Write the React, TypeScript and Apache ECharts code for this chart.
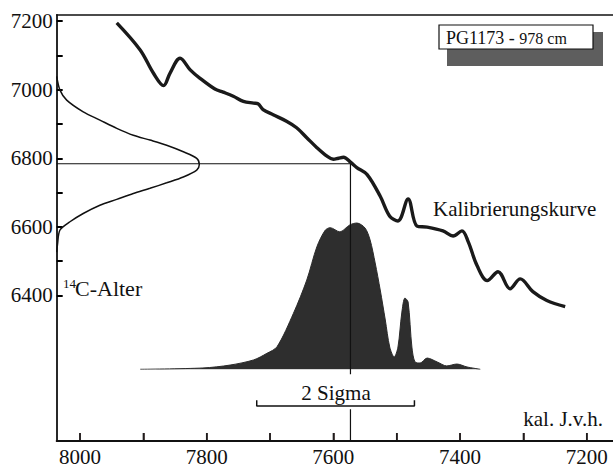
import React, { useEffect, useRef } from "react";
import * as echarts from "echarts";

// Calibration curve (cal. years BP vs 14C age)
const calibAge = [7942, 7905, 7884, 7868, 7858, 7842, 7826, 7811, 7787, 7774, 7758, 7742, 7726, 7719, 7711, 7695, 7674, 7658, 7642, 7626, 7610, 7600, 7592, 7584, 7572, 7563, 7547, 7526, 7511, 7498, 7482, 7468, 7452, 7427, 7411, 7397, 7387, 7373, 7357, 7340, 7321, 7305, 7285, 7263, 7234];
const calibC14 = [7195, 7116, 7048, 7012, 7048, 7092, 7058, 7034, 7002, 6993, 6981, 6966, 6961, 6959, 6942, 6927, 6908, 6889, 6860, 6831, 6806, 6797, 6800, 6803, 6787, 6773, 6753, 6689, 6631, 6617, 6681, 6602, 6599, 6588, 6573, 6588, 6556, 6486, 6443, 6469, 6419, 6448, 6411, 6385, 6367];

// 14C age distribution (relative density vs 14C age)
const ageDensity = [0, 0.023, 0.07, 0.186, 0.303, 0.421, 0.537, 0.654, 0.771, 0.888, 0.982, 1, 0.982, 0.888, 0.771, 0.654, 0.537, 0.421, 0.303, 0.186, 0.093, 0.023, 0.005, 0];
const ageC14 = [7040, 7000, 6971, 6937, 6913, 6889, 6869, 6855, 6840, 6821, 6802, 6784, 6768, 6748, 6731, 6715, 6700, 6683, 6666, 6642, 6618, 6594, 6550, 6530];

// Calibrated age distribution (cal. years BP vs relative density)
const distAge = [7905, 7806, 7763, 7726, 7705, 7689, 7663, 7642, 7626, 7613, 7605, 7590, 7574, 7563, 7550, 7542, 7534, 7526, 7518, 7511, 7504, 7498, 7492, 7487, 7482, 7476, 7471, 7463, 7452, 7436, 7421, 7405, 7389, 7368];
const distDensity = [0, 0.009, 0.029, 0.064, 0.109, 0.154, 0.383, 0.61, 0.838, 0.95, 0.968, 0.94, 0.987, 1, 0.966, 0.884, 0.727, 0.542, 0.337, 0.152, 0.084, 0.152, 0.385, 0.487, 0.46, 0.152, 0.05, 0.043, 0.077, 0.05, 0.023, 0.036, 0.016, 0];

// Measured 14C age and its intercept
const measuredC14 = 6784;
const interceptAge = 7573;

// 2 sigma range
const sigmaRange = [7721, 7472];
const sigmaLevel = 6077;
const sigmaEnd = 6094;
const gapTop = 6170;
const gapBottom = 6068;

// Axes
const xMin = 7158.5;
const xMax = 8036.8;
const yMin = 5975;
const yMax = 7218;
const xTickValues = [8000, 7900, 7800, 7700, 7600, 7500, 7400, 7300, 7200];
const xLabelValues = [8000, 7800, 7600, 7400, 7200];
const yTickValues = [7200, 7100, 7000, 6900, 6800, 6700, 6600, 6500, 6400];
const yLabelValues = [7200, 7000, 6800, 6600, 6400];

const FONT = "Liberation Serif";
const INK = "#111";
const AXIS_INK = "#201010";

export default function App() {
  const ref = useRef<HTMLDivElement>(null);
  useEffect(() => {
    if (!ref.current) return;
    const chart = echarts.init(ref.current, undefined, { renderer: "svg" });
    const hiddenAxis = { show: false, axisLine: { show: false, onZero: false }, axisTick: { show: false }, axisLabel: { show: false }, splitLine: { show: false } };
    chart.setOption({
      animation: false,
      backgroundColor: "#fff",
      grid: [
        { left: 56.7, right: 0, top: 15, bottom: 23.7, containLabel: false },
        { left: 56.7, width: 142.6, top: 15, bottom: 23.7, containLabel: false },
        { left: 56.7, right: 0, top: 15, bottom: 97.7, containLabel: false },
      ],
      xAxis: [
        {
          type: "value",
          gridIndex: 0,
          position: "bottom",
          inverse: true,
          min: xMin,
          max: xMax,
          axisLine: { show: true, onZero: false, lineStyle: { color: AXIS_INK, width: 2 } },
          axisTick: { show: true, inside: true, length: 8, customValues: xTickValues, lineStyle: { color: AXIS_INK, width: 1.5 } },
          axisLabel: { show: true, customValues: xLabelValues, margin: 5, color: INK, fontSize: 21, fontFamily: FONT, formatter: (v: number) => String(v) },
          splitLine: { show: false },
        },
        {
          type: "value",
          gridIndex: 0,
          position: "top",
          min: 0,
          max: 1,
          axisLine: { show: true, onZero: false, lineStyle: { color: INK, width: 1.6 } },
          axisTick: { show: false },
          axisLabel: { show: false },
          splitLine: { show: false },
        },
        { type: "value", gridIndex: 1, min: 0, max: 1, ...hiddenAxis },
        { type: "value", gridIndex: 2, inverse: true, min: xMin, max: xMax, ...hiddenAxis },
      ],
      yAxis: [
        {
          type: "value",
          gridIndex: 0,
          position: "left",
          min: yMin,
          max: yMax,
          axisLine: { show: true, onZero: false, lineStyle: { color: INK, width: 1.8 } },
          axisTick: { show: true, inside: true, length: 6, customValues: yTickValues, lineStyle: { color: "black", width: 2 } },
          axisLabel: { show: true, customValues: yLabelValues, margin: 4, color: INK, fontSize: 21, fontFamily: FONT, formatter: (v: number) => String(v) },
          splitLine: { show: false },
        },
        { type: "value", gridIndex: 1, min: yMin, max: yMax, ...hiddenAxis },
        { type: "value", gridIndex: 2, min: 0, max: 2.422, ...hiddenAxis },
      ],
      series: [
        {
          type: "line",
          xAxisIndex: 3,
          yAxisIndex: 2,
          data: distAge.map((a, i) => [a, distDensity[i]]),
          smooth: 0.3,
          symbol: "none",
          lineStyle: { color: "#2b2b2b", width: 1 },
          areaStyle: { color: "#2e2e2e", opacity: 1 },
          silent: true,
          z: 2,
        },
        {
          type: "line",
          xAxisIndex: 0,
          yAxisIndex: 0,
          data: [[xMax, yMin], [xMin, yMin]],
          symbol: "none",
          clip: false,
          lineStyle: { color: INK, width: 2 },
          silent: true,
          z: 3,
        },
        {
          type: "scatter",
          xAxisIndex: 0,
          yAxisIndex: 0,
          data: xTickValues.map((v) => [v, yMin]),
          symbol: "rect",
          symbolSize: [1.5, 8],
          symbolOffset: [0, -4],
          clip: false,
          itemStyle: { color: INK },
          silent: true,
          z: 3,
        },
        {
          type: "line",
          xAxisIndex: 0,
          yAxisIndex: 0,
          data: [[xMax, measuredC14], [interceptAge, measuredC14], [interceptAge, gapTop]],
          symbol: "none",
          lineStyle: { color: INK, width: 1.2 },
          silent: true,
          z: 3,
        },
        {
          type: "line",
          xAxisIndex: 0,
          yAxisIndex: 0,
          data: [[interceptAge, gapBottom], [interceptAge, yMin]],
          symbol: "none",
          lineStyle: { color: INK, width: 1.2 },
          silent: true,
          z: 3,
        },
        {
          type: "line",
          xAxisIndex: 0,
          yAxisIndex: 0,
          data: [[sigmaRange[0], sigmaEnd], [sigmaRange[0], sigmaLevel], [sigmaRange[1], sigmaLevel], [sigmaRange[1], sigmaEnd]],
          symbol: "none",
          lineStyle: { color: INK, width: 1.5 },
          silent: true,
          z: 3,
        },
        {
          type: "line",
          xAxisIndex: 2,
          yAxisIndex: 1,
          data: ageDensity.map((d, i) => [d, ageC14[i]]),
          smooth: 0.3,
          symbol: "none",
          lineStyle: { color: INK, width: 1.5 },
          silent: true,
          z: 4,
        },
        {
          type: "line",
          xAxisIndex: 0,
          yAxisIndex: 0,
          data: calibAge.map((a, i) => [a, calibC14[i]]),
          smooth: 0.35,
          symbol: "none",
          lineStyle: { color: "#1a1a1a", width: 3.4 },
          silent: true,
          z: 5,
        },
      ],
      graphic: [
        { type: "text", x: 433, y: 209, style: { text: "Kalibrierungskurve", fontSize: 21, fontFamily: FONT, fill: INK, verticalAlign: "middle" } },
        { type: "text", x: 603, y: 419, style: { text: "kal. J.v.h.", fontSize: 21, fontFamily: FONT, fill: INK, align: "right", verticalAlign: "middle" } },
        { type: "text", x: 336, y: 393, style: { text: "2 Sigma", fontSize: 21, fontFamily: FONT, fill: INK, align: "center", verticalAlign: "middle" } },
        { type: "text", x: 63, y: 283, style: { text: "14", fontSize: 13, fontFamily: FONT, fill: INK, verticalAlign: "middle" } },
        { type: "text", x: 75, y: 288, style: { text: "C-Alter", fontSize: 22, fontFamily: FONT, fill: INK, verticalAlign: "middle" } },
        { type: "rect", shape: { x: 447, y: 32, width: 156, height: 34 }, style: { fill: "#5e5e5e" }, z: 10 },
        { type: "rect", shape: { x: 439, y: 25, width: 154, height: 24 }, style: { fill: "#fff", stroke: INK, lineWidth: 1.2 }, z: 11 },
        {
          type: "text",
          x: 446,
          y: 38,
          z: 12,
          style: {
            text: "{a|PG1173 - }{b|978 cm}",
            fontFamily: FONT,
            fill: INK,
            verticalAlign: "middle",
            rich: {
              a: { fontSize: 18, fontFamily: FONT, fill: INK },
              b: { fontSize: 16, fontFamily: FONT, fill: INK },
            },
          },
        },
      ],
    });
    return () => chart.dispose();
  }, []);
  return <div ref={ref} style={{ position: "absolute", left: 0, top: 0, width: 613, height: 467 }} />;
}
